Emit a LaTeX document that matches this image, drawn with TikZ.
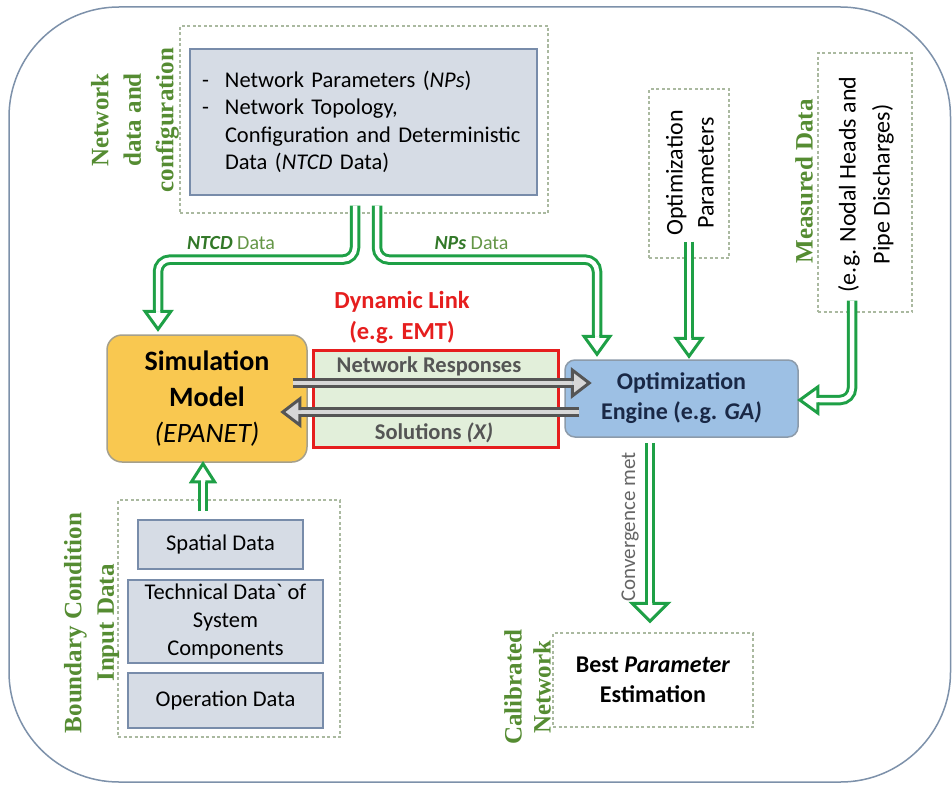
\documentclass[tikz,border=0pt]{standalone}
\usepackage{fontspec}
\setmainfont{Carlito}
\newfontfamily\tnr{Liberation Serif}
\usetikzlibrary{calc}
\definecolor{gcol}{RGB}{30,160,70}
\definecolor{lblgreen}{RGB}{85,140,50}
\definecolor{lbldark}{RGB}{50,120,40}
\definecolor{lblmid}{RGB}{100,150,70}
\definecolor{dashc}{RGB}{170,185,160}
\definecolor{boxfill}{RGB}{214,220,229}
\definecolor{boxline}{RGB}{120,140,170}
\definecolor{simfill}{RGB}{249,200,80}
\definecolor{simline}{RGB}{165,160,140}
\definecolor{optfill}{RGB}{157,192,228}
\definecolor{optline}{RGB}{140,155,170}
\definecolor{linkfill}{RGB}{226,239,218}
\definecolor{linkred}{RGB}{230,30,30}
\definecolor{outerc}{RGB}{125,145,170}
\definecolor{darkg}{RGB}{85,85,85}
\definecolor{lightg}{RGB}{215,215,215}
\definecolor{navy}{RGB}{25,40,70}
\tikzset{
  dbox/.style={draw=dashc, line width=1.3pt, dash pattern=on 3pt off 2.5pt, inner sep=0},
  gbox/.style={draw=boxline, fill=boxfill, line width=1.2pt},
  gshaft/.style={draw=gcol, line width=3pt, double=white, double distance=4.5pt, rounded corners=12pt},
  kshaft/.style={draw=darkg, line width=3pt, double=lightg, double distance=4pt},
  vlabel/.style={text=lblgreen, font=\tnr\bfseries\fontsize{25}{32.5}\selectfont, rotate=90, align=center, inner sep=0},
  pics/ghead/.style={code={\draw[gcol, line width=3pt, fill=white, line join=miter] (-18,2.25)--(-18,#1)--(0,0)--(-18,-#1)--(-18,-2.25);}},
  pics/khead/.style={code={\draw[darkg, line width=3pt, fill=lightg, line join=miter] (-17,2)--(-17,13)--(0,0)--(-17,-13)--(-17,-2);}},
}
\begin{document}
\begin{tikzpicture}[x=1pt,y=1pt]
\fill[white] (0,0) rectangle (952,-784);
\useasboundingbox (0,0) rectangle (952,-784);
\draw[outerc, line width=1.5pt, rounded corners=110pt] (9,-7) rectangle (950.5,-782);

% network data
\node[dbox, minimum width=368, minimum height=187] (netdash) at (364,-119.5) {};
\node[gbox, text width=323, inner xsep=12, minimum height=146, align=left,
      font=\fontsize{22.5}{27.5}\selectfont] (netin) at (363.5,-122)
  {\makebox[23pt][l]{-}Network Parameters (\textit{NPs})\\
   \makebox[23pt][l]{-}Network Topology,\\
   \hspace*{23pt}Configuration and Deterministic\\
   \hspace*{23pt}Data (\textit{NTCD} Data)};
\node[vlabel] (netlbl) at (135,-120) {Network\\data and\\configuration};

% optimization parameters
\node[dbox, minimum width=80, minimum height=169] (optpdash) at (689,-173.5) {};
\node[rotate=90, align=center, font=\fontsize{24}{31}\selectfont, inner sep=0] (optp) at (690,-173) {Optimization\\Parameters};

% measured data
\node[dbox, minimum width=94, minimum height=259] (measdash) at (865,-182.5) {};
\node[rotate=90, align=center, font=\fontsize{24}{34}\selectfont, inner sep=0] (meas) at (866,-184.5) {(e.g. Nodal Heads and\\Pipe Discharges)};
\node[vlabel] (measlbl) at (804,-181.5) {Measured Data};

% simulation model
\node[draw=simline, fill=simfill, line width=1.5pt, rounded corners=15pt, minimum width=200, minimum height=127,
      align=center, font=\bfseries\fontsize{28}{36}\selectfont] (sim) at (207,-398.5)
  {Simulation\\Model\\{\mdseries\itshape (EPANET)}};

% dynamic link
\node[draw=linkred, fill=linkfill, line width=3pt, minimum width=245, minimum height=97, inner sep=0] (link) at (435.5,-398.5) {};
\node[text=linkred, font=\bfseries\fontsize{24.5}{31}\selectfont, align=center, inner sep=0] (linklbl) at (402,-317) {Dynamic Link\\(e.g. EMT)};
\node[text=darkg, font=\bfseries\fontsize{22.5}{27}\selectfont, inner sep=0] (resp) at (429,-366) {Network Responses};
\node[text=darkg, font=\bfseries\fontsize{22.5}{27}\selectfont, inner sep=0] (sol) at (434,-433) {Solutions \textit{(X)}};

% optimization engine
\node[draw=optline, fill=optfill, line width=1.5pt, rounded corners=10pt, minimum width=233, minimum height=77,
      align=center, text=navy, font=\bfseries\fontsize{24}{30}\selectfont] (opt) at (681.5,-398.5)
  {Optimization\\Engine (e.g. \textit{GA)}};

% boundary condition
\node[dbox, minimum width=222, minimum height=237] (bcdash) at (229,-618.5) {};
\node[gbox, minimum width=165, minimum height=49, font=\fontsize{22.5}{28}\selectfont] (spatial) at (220.5,-544.5) {Spatial Data};
\node[gbox, minimum width=195, minimum height=83, inner ysep=0, align=center, font=\fontsize{22.5}{28}\selectfont] (tech) at (225.5,-621.5)
  {Technical Data\textasciigrave{} of\\System\\Components};
\node[gbox, minimum width=195, minimum height=55, font=\fontsize{22.5}{28}\selectfont] (oper) at (225.5,-700.5) {Operation Data};
\node[vlabel] (bclbl) at (91.5,-623) {Boundary Condition\\Input Data};

% best parameter
\node[dbox, minimum width=200, minimum height=94, align=center, font=\bfseries\fontsize{24}{30}\selectfont] (best) at (653,-680)
  {Best \textit{Parameter}\\Estimation};
\node[vlabel, font=\tnr\bfseries\fontsize{25}{29}\selectfont] (callbl) at (527.5,-687) {Calibrated\\Network};

% labels on arrows
\node[inner sep=0, font=\fontsize{20}{24}\selectfont] (ntcdlbl) at (231,-243)
  {\textcolor{lbldark}{\bfseries\itshape NTCD} \textcolor{lblmid}{Data}};
\node[inner sep=0, font=\fontsize{20}{24}\selectfont] (npslbl) at (471.5,-243)
  {\textcolor{lbldark}{\bfseries\itshape NPs} \textcolor{lblmid}{Data}};
\node[rotate=90, text=darkg!90, font=\fontsize{21}{24}\selectfont, inner sep=0] (convlbl) at (630,-527) {Convergence met};

% green arrows
\draw[gshaft] ($(netin.south)+(-8.5,-10)$) -- ++(0,-54) -| ($(sim.north)+(-49,23)$);
\pic[rotate=-90] at ($(sim.north)+(-49,5)$) {ghead=13};

\draw[gshaft] ($(netin.south)+(13.5,-10)$) -- ++(0,-54) -| ($(opt.north)+(-84.5,23)$);
\pic[rotate=-90] at ($(opt.north)+(-84.5,5)$) {ghead=13};

\draw[gshaft] ($(optpdash.south)+(0,17)$) -- ($(opt.north)+(7.5,21)$);
\pic[rotate=-90] at ($(opt.north)+(7.5,3)$) {ghead=13};

\draw[gshaft] ($(measdash.south)+(-13,12)$) |- ($(opt.east)+(19,-1.5)$);
\pic[rotate=180] at ($(opt.east)+(1,-1.5)$) {ghead=13};

\draw[gshaft] ($(opt.south)+(-31.5,-5)$) -- ($(best.north)+(-3,29)$);
\pic[rotate=-90] at ($(best.north)+(-3,11)$) {ghead=18};

\draw[gshaft] ($(spatial.north)+(-17.5,8)$) -- ($(sim.south)+(-4,-19)$);
\pic[rotate=90] at ($(sim.south)+(-4,-1)$) {ghead=11.5};

% gray arrows
\draw[kshaft] ($(sim.east)+(-15,15.5)$) -- ($(opt.west)+(8,15.5)$);
\pic at ($(opt.west)+(25,15.5)$) {khead};
\draw[kshaft] ($(opt.west)+(15,-13.5)$) -- ($(sim.east)+(-8,-13.5)$);
\pic[rotate=180] at ($(sim.east)+(-25,-13.5)$) {khead};
\end{tikzpicture}
\end{document}
